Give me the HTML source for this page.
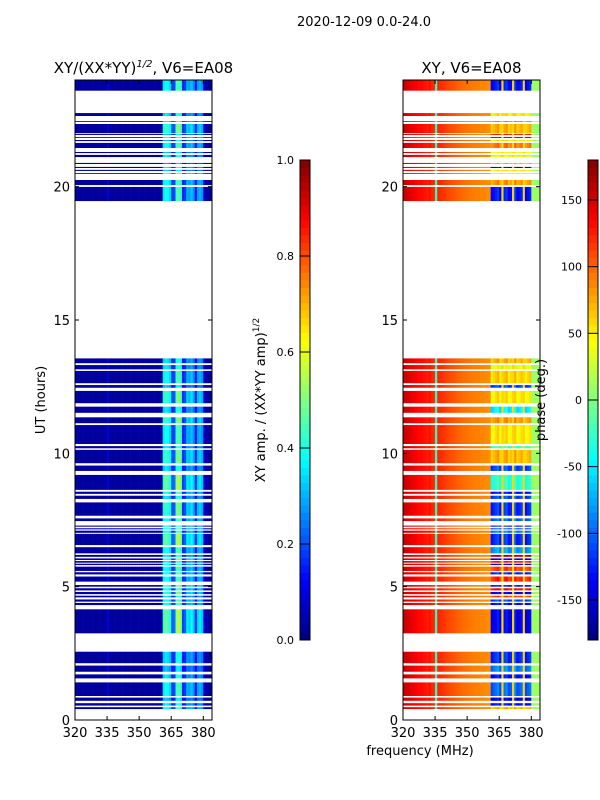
<!DOCTYPE html>
<html><head><meta charset="utf-8"><style>
html,body{margin:0;padding:0;background:#fff;width:600px;height:800px;overflow:hidden}
svg{display:block;font-family:"DejaVu Sans","Liberation Sans",sans-serif}
</style></head><body>
<svg id="fig" width="600" height="800" viewBox="0 0 600 800" xmlns="http://www.w3.org/2000/svg">
<text x="364" y="26" font-size="13" text-anchor="middle">2020-12-09 0.0-24.0</text>
<text x="143.5" y="73" font-size="15" text-anchor="middle">XY/(XX*YY)<tspan font-size="10" dy="-6" font-style="italic">1/2</tspan><tspan dy="6">, V6=EA08</tspan></text>
<text x="471.5" y="73" font-size="15" text-anchor="middle">XY, V6=EA08</text>
<g id="left"></g>
<g id="right"></g>
<g id="axes"></g>
<text transform="translate(45,400) rotate(-90)" font-size="13" text-anchor="middle">UT (hours)</text>
<text x="420" y="755" font-size="13" text-anchor="middle">frequency (MHz)</text>
<text transform="translate(265,400) rotate(-90)" font-size="13" text-anchor="middle">XY amp. / (XX*YY amp)<tspan font-size="9" dy="-6">1/2</tspan></text>
<text transform="translate(545,400) rotate(-90)" font-size="13" text-anchor="middle">phase (deg.)</text>
<g id="cbars"></g>
</svg>
<script>
// ---- data ----
const segStart=[23.6,22.65,22.43,22.01,21.94,21.83,21.71,21.45,21.26,21.11,20.85,20.7,20.59,20.48,20.06,19.46,
13.38,13.15,12.63,12.46,11.88,11.52,11.13,10.35,10.19,9.63,9.34,8.63,8.48,8.29,7.66,7.46,7.25,7.15,7.02,6.56,6.25,6.12,6.0,5.9,5.81,5.59,5.46,5.19,5.0,4.86,4.72,4.6,4.44,4.31,3.25,2.13,1.81,1.56,0.9,0.72,0.54,0.41];
const segEnd=[24.0,22.76,22.46,22.35,21.98,21.86,21.75,21.64,21.3,21.19,20.89,20.74,20.63,20.51,20.25,19.99,
13.56,13.31,13.09,12.56,12.34,11.75,11.35,11.06,10.27,10.13,9.54,9.19,8.56,8.41,8.16,7.56,7.29,7.19,7.1,6.98,6.48,6.19,6.06,5.96,5.86,5.75,5.54,5.38,5.06,4.94,4.8,4.66,4.52,4.39,4.15,2.56,2.04,1.71,1.41,0.84,0.63,0.48];
const segPhaseHigh=[-140,40,90,60,120,-150,40,80,30,20,60,-150,40,10,70,-140,
60,30,50,-120,40,-60,70,40,-30,60,-120,-40,-140,-120,-130,-110,-140,-120,-100,-130,-90,150,-150,120,-150,100,-130,110,-140,120,-150,100,-120,-140,-150,-130,-100,-140,-110,-150,-140,60];
const segAmpScale=[1.0,0.9,0.8,1.1,0.8,0.9,0.8,1.0,0.8,0.9,0.7,0.9,0.8,1.0,1.0,1.0,
0.9,0.9,1.0,0.8,1.1,0.9,1.1,1.0,0.9,1.1,0.9,1.2,1.0,0.9,1.1,1.0,0.9,1.0,1.0,1.2,1.0,0.9,1.1,0.9,1.0,1.0,1.0,1.0,1.1,1.0,1.1,0.9,1.0,1.0,1.2,0.9,0.8,0.9,1.0,0.8,0.9,1.0];
// channel centres (MHz) and amplitude profile
const chanFreq=[320,321,322,323,324,325,326,327,328,329,330,331,332,333,334,335,336,337,338,339,340,341,342,343,344,345,346,347,348,349,350,351,352,353,354,355,356,357,358,359,360,361,362,363,364,365,366,367,368,369,370,371,372,373,374,375,376,377,378,379,380,381,382,383];
const ampProfile=[0.03,0.03,0.03,0.03,0.03,0.03,0.03,0.03,0.03,0.03,0.03,0.03,0.03,0.03,0.03,0.08,0.03,0.03,0.03,0.03,0.03,0.03,0.03,0.03,0.03,0.03,0.03,0.03,0.03,0.03,0.03,0.03,0.03,0.03,0.03,0.03,0.03,0.03,0.03,0.03,0.03,0.36,0.40,0.38,0.34,0.18,0.20,0.44,0.46,0.42,0.16,0.18,0.30,0.28,0.32,0.27,0.14,0.28,0.30,0.27,0.06,0.04,0.03,0.03];
const phaseLow=[155,152,150,145,142,138,135,132,134,130,128,126,130,122,120,-30,122,120,118,115,112,110,108,106,104,102,100,98,97,96,94,93,92,91,90,90,88,88,87,86,86];
const phaseEdge=10;
const phaseLines=[366,371,376];
const ampTicks=[0,0.2,0.4,0.6,0.8,1.0];
const phaseTicks=[-150,-100,-50,0,50,100,150];
const yTicks=[0,5,10,15,20];
const xTicks=[320,335,350,365,380];

// ---- geometry ----
const NS="http://www.w3.org/2000/svg";
const Y0=720,Y1=80;
const yS=h=>Y0-(h/24)*(Y0-Y1);
const PX=2.1385;
function xS(left,f){return left+(f-320)*PX;}
function jet(v){v=Math.max(0,Math.min(1,v));
 const r=Math.max(0,Math.min(1,1.5-Math.abs(4*v-3)));
 const g=Math.max(0,Math.min(1,1.5-Math.abs(4*v-2)));
 const b=Math.max(0,Math.min(1,1.5-Math.abs(4*v-1)));
 return `rgb(${Math.round(r*255)},${Math.round(g*255)},${Math.round(b*255)})`;}
function mk(tag,attrs,parent){const e=document.createElementNS(NS,tag);for(const k in attrs)e.setAttribute(k,attrs[k]);parent.appendChild(e);return e;}

const L=document.getElementById('left'),R=document.getElementById('right');
for(let s=0;s<segStart.length;s++){
 const yt=yS(segEnd[s]),yb=yS(segStart[s]);
 for(let c=0;c<chanFreq.length;c++){
  const f=chanFreq[c];
  const a=ampProfile[c]*(f>=361?segAmpScale[s]:1);
  const r1=mk('rect',{x:xS(75,f).toFixed(2),y:yt.toFixed(2),width:(PX+0.3).toFixed(2),height:(yb-yt).toFixed(2),fill:jet(a)},L);
  
  
  let p;
  if(f<361)p=phaseLow[c];
  else if(f>=380)p=phaseEdge;
  else if(phaseLines.includes(f))p=60;
  else p=segPhaseHigh[s]+((f-361)%4)*8;
  if(p>180)p-=360;
  const r2=mk('rect',{x:xS(403,f).toFixed(2),y:yt.toFixed(2),width:(PX+0.3).toFixed(2),height:(yb-yt).toFixed(2),fill:jet((p+180)/360)},R);
  
  
 }
}

// ---- axes ----
const A=document.getElementById('axes');
[75,403].forEach((left,i)=>{
 const fr=mk('rect',{x:left,y:80,width:137,height:640,fill:'none',stroke:'#000','stroke-width':1},A);
 
 
 yTicks.forEach(t=>{const y=yS(t);
  mk('line',{x1:left,x2:left+4,y1:y,y2:y,stroke:'#000'},A);
  mk('line',{x1:left+137,x2:left+133,y1:y,y2:y,stroke:'#000'},A);
  const tx=mk('text',{x:left-5,y:y+5,'font-size':13,'text-anchor':'end'},A);tx.textContent=t;
  
  });
 xTicks.forEach(t=>{const x=xS(left,t);
  mk('line',{x1:x,x2:x,y1:720,y2:716,stroke:'#000'},A);
  mk('line',{x1:x,x2:x,y1:80,y2:84,stroke:'#000'},A);
  const tx=mk('text',{x:x,y:737,'font-size':13,'text-anchor':'middle'},A);tx.textContent=t;
  
  });
});

// ---- colorbars ----
const C=document.getElementById('cbars');
function cbar(x,ticks,lo,hi,name){
 const g=mk('g',{},C);
 
 
 const n=64;
 for(let i=0;i<n;i++){mk('rect',{x:x,y:(640-(i+1)*480/n).toFixed(2),width:10,height:(480/n+0.5).toFixed(2),fill:jet((i+0.5)/n)},g);}
 mk('rect',{x:x,y:160,width:10,height:480,fill:'none',stroke:'#000'},g);
 ticks.forEach(t=>{const y=640-(t-lo)/(hi-lo)*480;
  mk('line',{x1:x,x2:x+10,y1:y,y2:y,stroke:'#000'},g);
  const tx=mk('text',{x:x-6,y:y+4,'font-size':11,'text-anchor':'end'},g);
  tx.textContent=(hi<=1?t.toFixed(1):t);
  
  });
}
cbar(300,ampTicks,0,1,'amp-colorbar');
cbar(588,phaseTicks,-180,180,'phase-colorbar');
</script>
</body></html>
